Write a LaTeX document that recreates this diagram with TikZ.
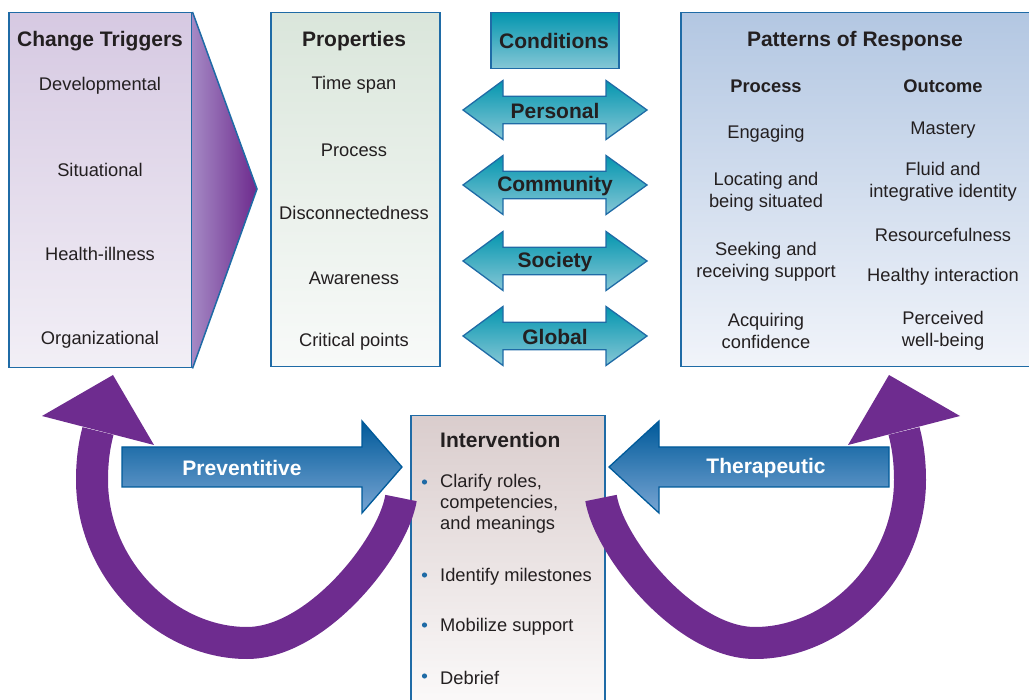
\documentclass[tikz,border=0pt]{standalone}
\usepackage{fontspec}
\setmainfont{Liberation Sans}
\usetikzlibrary{positioning}

\definecolor{ink}{HTML}{231F20}
\definecolor{edgeblue}{HTML}{1F6BA6}
\definecolor{trigtop}{HTML}{D6C9E2}
\definecolor{trigbot}{HTML}{F2EFF6}
\definecolor{wedgel}{HTML}{A488C4}
\definecolor{wedger}{HTML}{6D2A8D}
\definecolor{proptop}{HTML}{DAE6DB}
\definecolor{propbot}{HTML}{F8FAF9}
\definecolor{condtop}{HTML}{0496AF}
\definecolor{condbot}{HTML}{86C7D6}
\definecolor{resptop}{HTML}{B3C7E2}
\definecolor{respbot}{HTML}{F1F4FA}
\definecolor{intvtop}{HTML}{DACDCD}
\definecolor{intvbot}{HTML}{FCFBFB}
\definecolor{arrowtop}{HTML}{005A9A}
\definecolor{arrowbot}{HTML}{78A5D3}
\definecolor{loopviolet}{HTML}{6E2C8F}

\tikzset{
  box/.style={draw=edgeblue, line width=1.5pt, anchor=north west, inner sep=0pt, shade},
  heading/.style={font=\fontsize{21}{24}\selectfont\bfseries, text=ink, inner sep=0pt},
  subhead/.style={font=\fontsize{18.3}{21.5}\selectfont\bfseries, text=ink, inner sep=0pt},
  entry/.style={font=\fontsize{18.3}{21.5}\selectfont, text=ink, align=center, inner sep=0pt},
  bullettext/.style={font=\fontsize{18.3}{21}\selectfont, text=ink, align=left, anchor=west, inner sep=0pt},
  condarrow/.style={draw=edgeblue, line width=1.3pt, top color=condtop, bottom color=condbot, line join=miter},
  condtext/.style={font=\fontsize{21}{24}\selectfont\bfseries, text=ink, inner sep=0pt},
  bluearrow/.style={draw=arrowtop, line width=1.3pt, top color=arrowtop, bottom color=arrowbot, line join=miter},
  arrowtext/.style={font=\fontsize{21}{24}\selectfont\bfseries, text=white, inner sep=0pt},
  loopband/.style={draw=loopviolet, line width=32pt},
  loophead/.style={fill=loopviolet}
}

\begin{document}
\begin{tikzpicture}[x=1pt, y=-1pt]
  \clip (0,0) rectangle (1029,700);

  % boxes
  \node[box, top color=trigtop, bottom color=trigbot, minimum width=183pt, minimum height=355pt] (trig) at (8,12) {};
  \shade[left color=wedgel, right color=wedger] (trig.north east) -- (257,189) -- (trig.south east) -- cycle;
  \draw[edgeblue, line width=1.5pt] (trig.north east) -- (257,189) -- (trig.south east);
  \node[box, top color=proptop, bottom color=propbot, minimum width=169pt, minimum height=354pt] (props) at (270,12) {};
  \node[box, top color=condtop, bottom color=condbot, minimum width=128pt, minimum height=56pt] (conds) at (490,12) {};
  \node[box, top color=resptop, bottom color=respbot, minimum width=360pt, minimum height=354pt] (resp) at (680,12) {};
  \node[box, top color=intvtop, bottom color=intvbot, minimum width=194pt, minimum height=300pt] (interv) at (410,415) {};

  % change triggers
  \node[heading] (trig-title) at (100,41) {Change Triggers};
  \node[entry] (trig-dev) at (100,86) {Developmental};
  \node[entry] (trig-sit) at (100,170) {Situational};
  \node[entry] (trig-hea) at (100,254) {Health-illness};
  \node[entry] (trig-org) at (100,340) {Organizational};

  % properties
  \node[heading] (props-title) at (354,41) {Properties};
  \node[entry] (props-time) at (354,85) {Time span};
  \node[entry] (props-proc) at (354,150) {Process};
  \node[entry] (props-disc) at (354,213) {Disconnectedness};
  \node[entry] (props-awar) at (354,278) {Awareness};
  \node[entry] (props-crit) at (354,342) {Critical points};

  % conditions
  \node[condtext] (conds-title) at (554,41) {Conditions};
  \foreach \y/\name in {110/Personal, 185/Community, 261/Society, 336/Global}{
    \path[condarrow] (463,\y) -- (503,\y-29.5) -- (503,\y-13.8) -- (606,\y-13.8) -- (606,\y-29.5)
      -- (647,\y) -- (606,\y+29.5) -- (606,\y+13.8) -- (503,\y+13.8) -- (503,\y+29.5) -- cycle;
    \node[condtext] (cond-\name) at (555,\y+1) {\name};
  }

  % patterns of response
  \node[heading] (resp-title) at (855,41) {Patterns of Response};
  \node[subhead] (resp-proc) at (766,86) {Process};
  \node[subhead] (resp-out) at (943,86) {Outcome};
  \node[entry] (proc-1) at (766,134) {Engaging};
  \node[entry] (proc-2) at (766,192) {Locating and\\being situated};
  \node[entry] (proc-3) at (766,262) {Seeking and\\receiving support};
  \node[entry] (proc-4) at (766,331) {Acquiring\\confidence};
  \node[entry] (out-1) at (943,130) {Mastery};
  \node[entry] (out-2) at (943,182) {Fluid and\\integrative identity};
  \node[entry] (out-3) at (943,235) {Resourcefulness};
  \node[entry] (out-4) at (943,277) {Healthy interaction};
  \node[entry] (out-5) at (943,331) {Perceived\\well-being};

  % intervention
  \node[heading, anchor=west] (interv-title) at (440,440) {Intervention};
  \node[bullettext] (interv-1) at (440,504) {Clarify roles,\\competencies,\\and meanings};
  \node[bullettext] (interv-2) at (440,577) {Identify milestones};
  \node[bullettext] (interv-3) at (440,627) {Mobilize support};
  \node[bullettext] (interv-4) at (440,678) {Debrief};
  \foreach \y in {482,575,625,676}
    \fill[edgeblue] (424.5,\y) circle (2.6pt);

  % feedback loops
  \draw[loopband] (401,498) .. controls (393,547) and (317,643) .. (247,643)
    .. controls (167,643) and (92,570) .. (92,480) .. controls (92,462) and (94,446) .. (98,431);
  \fill[loophead] (113,375) -- (42,416) -- (154,445) -- cycle;
  \begin{scope}[xshift=1002pt, xscale=-1]
    \draw[loopband] (401,498) .. controls (393,547) and (317,643) .. (247,643)
      .. controls (167,643) and (92,570) .. (92,480) .. controls (92,462) and (94,446) .. (98,431);
    \fill[loophead] (113,375) -- (42,416) -- (154,445) -- cycle;
  \end{scope}

  % preventitive and therapeutic
  \path[bluearrow] (122,447) -- (362,447) -- (362,421) -- (402,467) -- (362,513) -- (362,487) -- (122,487) -- cycle;
  \node[arrowtext] (prev) at (242,468) {Preventitive};
  \path[bluearrow] (889,447) -- (659,447) -- (659,421) -- (609,467) -- (659,513) -- (659,487) -- (889,487) -- cycle;
  \node[arrowtext] (ther) at (766,468) {Therapeutic};
\end{tikzpicture}
\end{document}
